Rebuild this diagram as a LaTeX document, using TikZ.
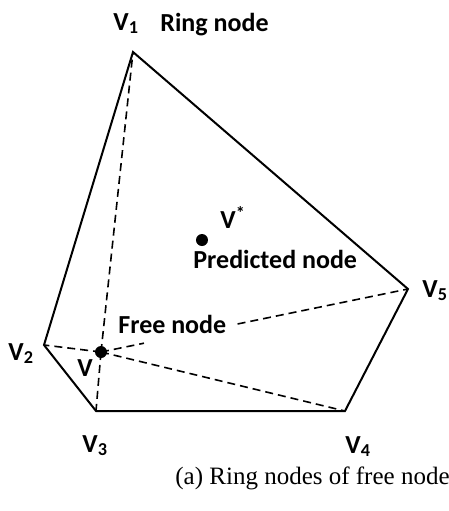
\documentclass[tikz,border=0pt]{standalone}
\usepackage{fontspec}
\setmainfont{Liberation Serif}
\newfontfamily\lblfont{Carlito}
\usetikzlibrary{calc}
\begin{document}
\begin{tikzpicture}[
  x=0.5pt, y=-0.5pt,
  every node/.style={font=\lblfont\bfseries\fontsize{13}{15}\selectfont, inner sep=0pt},
  vlab/.style={anchor=base west},
  txt/.style={anchor=base west},
  ring/.style={line width=1pt, line join=miter},
  spoke/.style={line width=0.8pt, dash pattern=on 4pt off 2.5pt},
  dot/.style={circle, fill=black, minimum size=6pt}
]
\useasboundingbox (0,0) rectangle (449,511);
% ring nodes
\coordinate (v1) at (133,52);
\coordinate (v2) at (44,345);
\coordinate (v3) at (96,411);
\coordinate (v4) at (345,411);
\coordinate (v5) at (408,289);
% free node and predicted node
\node[dot] (v) at (101,352) {};
\node[dot] (vs) at (202,240) {};

\draw[ring] (v1) -- (v5) -- (v4) -- (v3) -- (v2) -- cycle;
\foreach \r in {v1,v2,v3,v4}
  \draw[spoke] (v.center) -- (\r);
% line to v5 broken by the label
\coordinate (fa) at ($(v.center)!0.14!(v5)$);
\coordinate (fb) at ($(v.center)!0.445!(v5)$);
\draw[spoke] (v.center) -- (fa);
\draw[spoke] (fb) -- (v5);

% labels
\node[vlab] (l1) at (113,30) {V\textsubscript{1}};
\node[vlab] (l2) at (8,360) {V\textsubscript{2}};
\node[vlab] (l3) at (82,452) {V\textsubscript{3}};
\node[vlab] (l4) at (345,453) {V\textsubscript{4}};
\node[vlab] (l5) at (422,297) {V\textsubscript{5}};
\node[vlab] (lv) at (77,376) {V};
\node[vlab] (lvs) at (220,228) {V\textsuperscript{*}};
\node[txt] (ring) at (160,31) {Ring node};
\node[txt] (free) at (118,333) {Free node};
\node[txt] (pred) at (193,268) {Predicted node};
\node[txt, font=\rmfamily\fontsize{12.5}{14}\selectfont] (cap) at (175,484) {(a) Ring nodes of free node};
\end{tikzpicture}
\end{document}
